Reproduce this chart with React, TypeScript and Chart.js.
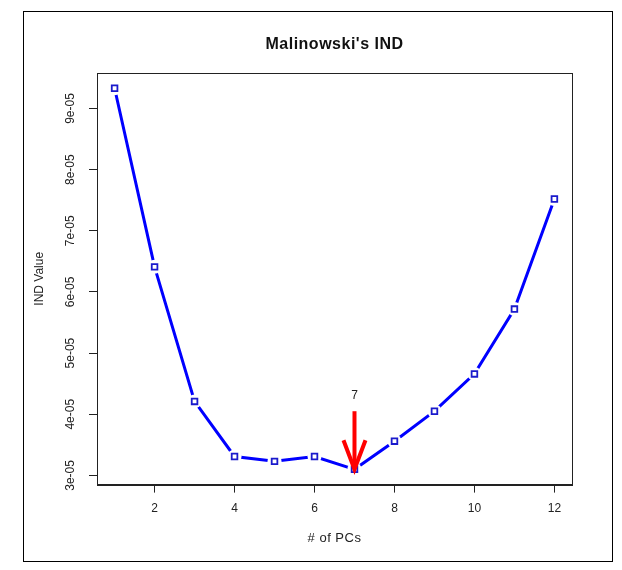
import React, { useEffect, useRef } from "react";
import { Chart, registerables } from "chart.js";

Chart.register(...registerables);

// ---- data ----
const pcs = [1, 2, 3, 4, 5, 6, 7, 8, 9, 10, 11, 12];
const indValues = [
  9.33e-5, 6.41e-5, 4.21e-5, 3.31e-5, 3.23e-5, 3.31e-5,
  3.1e-5, 3.56e-5, 4.05e-5, 4.66e-5, 5.72e-5, 7.52e-5,
];
const yTickLabels = ["3e-05", "4e-05", "5e-05", "6e-05", "7e-05", "8e-05", "9e-05"];
const xRange = [0.56, 12.44];
const yRange = [2.85e-5, 9.58e-5];
const arrowX = 7;
const arrowFrom = 4.05e-5;
const arrowTo = 3.1e-5;
const arrowLabel = "7";
const arrowLabelY = 4.3e-5;

const chartTitle = "Malinowski's IND";
const xTitle = "# of PCs";
const yTitle = "IND Value";

const FONT = "'Liberation Sans', Arial, sans-serif";

const decorPlugin = {
  id: "decor",
  beforeDraw(chart: any) {
    const ctx = chart.ctx;
    ctx.save();
    ctx.fillStyle = "#ffffff";
    ctx.fillRect(0, 0, chart.width, chart.height);
    ctx.restore();
  },
  afterDatasetsDraw(chart: any) {
    const ctx = chart.ctx;
    const xs = chart.scales.x;
    const ys = chart.scales.y;
    const ax = xs.getPixelForValue(arrowX);
    const ay0 = ys.getPixelForValue(arrowFrom);
    const ay1 = ys.getPixelForValue(arrowTo);
    ctx.save();
    ctx.strokeStyle = "#ff0000";
    ctx.lineWidth = 4;
    ctx.lineCap = "butt";
    ctx.beginPath();
    ctx.moveTo(ax, ay0);
    ctx.lineTo(ax, ay1);
    ctx.stroke();
    ctx.beginPath();
    ctx.moveTo(ax - 11, ay1 - 29);
    ctx.lineTo(ax, ay1);
    ctx.lineTo(ax + 11, ay1 - 29);
    ctx.stroke();
    ctx.fillStyle = "#222222";
    ctx.font = `12px ${FONT}`;
    ctx.textAlign = "center";
    ctx.textBaseline = "middle";
    ctx.fillText(arrowLabel, ax, ys.getPixelForValue(arrowLabelY));
    ctx.restore();
  },
  afterDraw(chart: any) {
    const ctx = chart.ctx;
    const area = chart.chartArea;
    const ys = chart.scales.y;
    ctx.save();
    ctx.strokeStyle = "#000000";
    ctx.lineWidth = 1;
    ctx.strokeRect(23.5, 11.5, 589, 550);
    ctx.strokeStyle = "#222222";
    ctx.strokeRect(
      Math.round(area.left) + 0.5,
      Math.round(area.top) + 0.5,
      Math.round(area.right - area.left),
      Math.round(area.bottom - area.top)
    );
    const cx = (area.left + area.right) / 2;
    const cy = (area.top + area.bottom) / 2;
    ctx.fillStyle = "#111111";
    ctx.font = `bold 16px ${FONT}`;
    ctx.textAlign = "center";
    ctx.textBaseline = "middle";
    (ctx as any).letterSpacing = "0.5px";
    ctx.fillText(chartTitle, cx, 45);
    ctx.fillStyle = "#222222";
    ctx.font = `13px ${FONT}`;
    (ctx as any).letterSpacing = "0.5px";
    ctx.fillText(xTitle, cx, 538);
    (ctx as any).letterSpacing = "0px";
    ctx.font = `12px ${FONT}`;
    ys.ticks.forEach((t: any, i: number) => {
      const py = ys.getPixelForValue(t.value);
      ctx.save();
      ctx.translate(71, py);
      ctx.rotate(-Math.PI / 2);
      ctx.fillText(yTickLabels[i] ?? "", 0, 0);
      ctx.restore();
    });
    ctx.save();
    ctx.translate(40, cy);
    ctx.rotate(-Math.PI / 2);
    ctx.fillText(yTitle, 0, 0);
    ctx.restore();
    ctx.restore();
  },
};

export default function App() {
  const ref = useRef<HTMLCanvasElement | null>(null);
  useEffect(() => {
    if (!ref.current) return;
    const pts = pcs.map((x, i) => ({ x, y: indValues[i] }));
    const chart = new Chart(ref.current, {
      type: "scatter",
      data: {
        datasets: [
          {
            order: 0,
            data: pts,
            showLine: false,
            pointStyle: "rect",
            pointRadius: 4,
            pointBorderWidth: 1.8,
            pointBorderColor: "#1a1acc",
            pointBackgroundColor: "#ffffff",
          },
          {
            order: 1,
            data: pts,
            showLine: false,
            pointStyle: "circle",
            pointRadius: 7,
            pointBorderWidth: 0,
            pointBackgroundColor: "#ffffff",
            pointBorderColor: "#ffffff",
          },
          {
            order: 2,
            data: pts,
            showLine: true,
            borderColor: "#0000ff",
            borderWidth: 3,
            pointRadius: 0,
            tension: 0,
          },
        ],
      },
      options: {
        responsive: false,
        animation: false,
        events: [],
        layout: { padding: { left: 89, top: 73, right: 50, bottom: 45 } },
        plugins: {
          legend: { display: false },
          title: { display: false },
          tooltip: { enabled: false },
        },
        scales: {
          x: {
            type: "linear",
            min: xRange[0],
            max: xRange[1],
            border: { display: true, color: "#222222", width: 1 },
            grid: {
              drawOnChartArea: false,
              drawTicks: true,
              tickLength: 8,
              color: "#222222",
              tickWidth: 1,
            },
            ticks: {
              stepSize: 2,
              includeBounds: false,
              color: "#222222",
              font: { family: FONT, size: 12 },
              padding: 9,
              maxRotation: 0,
              callback: (v: any) => String(v),
            },
          },
          y: {
            type: "linear",
            min: yRange[0],
            max: yRange[1],
            border: { display: true, color: "#222222", width: 1 },
            grid: {
              drawOnChartArea: false,
              drawTicks: true,
              tickLength: 8,
              color: "#222222",
              tickWidth: 1,
            },
            ticks: {
              stepSize: 1e-5,
              includeBounds: false,
              display: false,
            },
          },
        },
      },
      plugins: [decorPlugin],
    });
    return () => chart.destroy();
  }, []);
  return (
    <div style={{ position: "absolute", left: 0, top: 0, width: 622, height: 570, background: "#fff" }}>
      <canvas ref={ref} width={622} height={570} style={{ display: "block" }} />
    </div>
  );
}
